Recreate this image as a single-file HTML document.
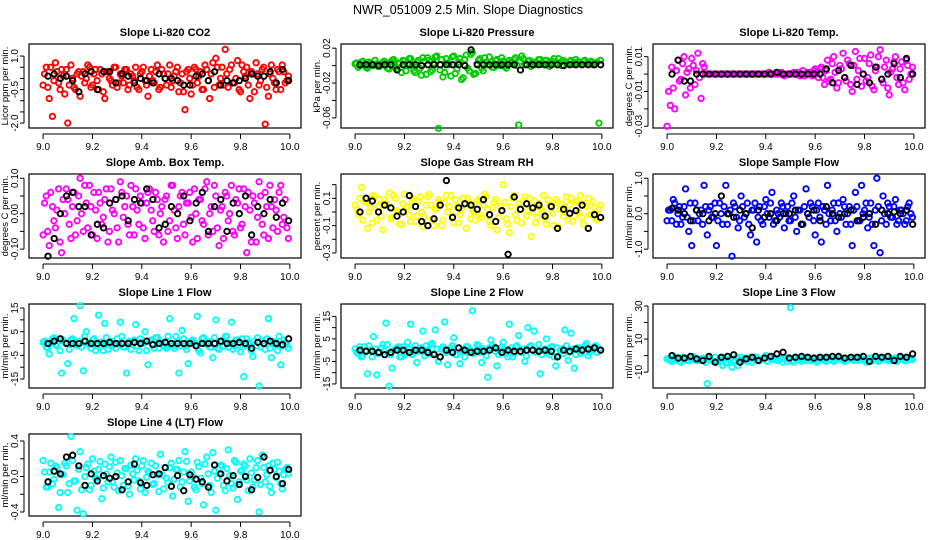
<!DOCTYPE html>
<html><head><meta charset="utf-8"><title>NWR_051009 Slope Diagnostics</title>
<style>
html,body{margin:0;padding:0;background:#fff;}
svg{display:block;font-family:"Liberation Sans",sans-serif;}
</style></head>
<body>
<svg id="chart" width="936" height="540" viewBox="0 0 936 540" xmlns="http://www.w3.org/2000/svg">
<text x="468" y="14" text-anchor="middle" font-size="12.5">NWR_051009  2.5 Min. Slope Diagnostics</text>
</svg>
<script>
const timesC = [
9.000,9.013,9.025,9.038,9.050,9.063,9.075,9.088,9.100,9.113,
9.125,9.138,9.150,9.163,9.175,9.188,9.200,9.213,9.225,9.238,
9.250,9.263,9.275,9.288,9.300,9.313,9.325,9.338,9.350,9.363,
9.375,9.388,9.400,9.413,9.425,9.438,9.450,9.463,9.475,9.488,
9.500,9.513,9.525,9.538,9.550,9.563,9.575,9.588,9.600,9.613,
9.625,9.638,9.650,9.663,9.675,9.688,9.700,9.713,9.725,9.738,
9.750,9.763,9.775,9.788,9.800,9.813,9.825,9.838,9.850,9.863,
9.875,9.888,9.900,9.913,9.925,9.938,9.950,9.963,9.975,9.988];
const timesD = [
9.006,9.019,9.031,9.044,9.056,9.069,9.081,9.094,9.106,9.119,
9.131,9.144,9.156,9.169,9.181,9.194,9.206,9.219,9.231,9.244,
9.256,9.269,9.281,9.294,9.306,9.319,9.331,9.344,9.356,9.369,
9.381,9.394,9.406,9.419,9.431,9.444,9.456,9.469,9.481,9.494,
9.506,9.519,9.531,9.544,9.556,9.569,9.581,9.594,9.606,9.619,
9.631,9.644,9.656,9.669,9.681,9.694,9.706,9.719,9.731,9.744,
9.756,9.769,9.781,9.794,9.806,9.819,9.831,9.844,9.856,9.869,
9.881,9.894,9.906,9.919,9.931,9.944,9.956,9.969,9.981,9.994];
const timesB = [
9.020,9.045,9.070,9.095,9.120,9.145,9.170,9.195,9.220,9.245,
9.270,9.295,9.320,9.345,9.370,9.395,9.420,9.445,9.470,9.495,
9.520,9.545,9.570,9.595,9.620,9.645,9.670,9.695,9.720,9.745,
9.770,9.795,9.820,9.845,9.870,9.895,9.920,9.945,9.970,9.995];
const xTicks = [9.0,9.2,9.4,9.6,9.8,10.0];
const xTickLabels = ["9.0","9.2","9.4","9.6","9.8","10.0"];
const titles = ["Slope Li-820 CO2","Slope Li-820 Pressure","Slope Li-820 Temp.","Slope Amb. Box Temp.","Slope Gas Stream RH","Slope Sample Flow","Slope Line 1 Flow","Slope Line 2 Flow","Slope Line 3 Flow","Slope Line 4 (LT) Flow"];
const yTitles = ["Licor ppm per min.","kPa per min.","degrees C per min.","degrees C per min.","percent per min.","ml/min per min.","ml/min per min.","ml/min per min.","ml/min per min.","ml/min per min."];
const colors = ["#ff0000","#00cd00","#ff00ff","#ff00ff","#ffff00","#0000ff","#00ffff","#00ffff","#00ffff","#00ffff"];
const yLims = [[-2.22,1.54],[-0.0716,0.0248],[-0.031,0.0173],[-0.125,0.112],[-0.337,0.278],[-1.25,1.12],[-18.8,16.7],[-16.8,20.5],[-19.6,31.2],[-0.445,0.479]];
const yTicks = [[1.0,0.5,0.0,-0.5,-1.0,-1.5,-2.0],[0.02,0.0,-0.02,-0.04,-0.06],[0.01,0.0,-0.01,-0.02,-0.03],[0.10,0.05,0.0,-0.05,-0.10],[0.2,0.1,0.0,-0.1,-0.2,-0.3],[1.0,0.5,0.0,-0.5,-1.0],[15,10,5,0,-5,-10,-15],[15,10,5,0,-5,-10,-15],[30,20,10,0,-10],[0.4,0.2,0.0,-0.2,-0.4]];
const yTickLabels = [["1.0","","","-0.5","","","-2.0"],["0.02","","-0.02","","-0.06"],["0.01","","-0.01","","-0.03"],["0.10","","0.00","","-0.10"],["","0.1","","-0.1","","-0.3"],["1.0","","0.0","","-1.0"],["15","","5","","-5","","-15"],["15","","5","","-5","","-15"],["30","","10","","-10"],["0.4","","0.0","","-0.4"]];

const co2C = [-0.3,0.5,-0.9,-1.7,0.7,-0.2,0.4,-0.7,-2.0,0.6,
-0.4,0.2,-0.8,0.3,0.0,0.5,-0.3,0.4,-0.5,0.2,
-0.9,0.3,-0.1,0.5,-0.4,0.2,-0.2,0.4,-0.3,0.1,
0.5,-0.5,0.3,-0.1,-0.8,0.4,-0.2,0.6,-0.4,0.2,
-0.3,0.6,-0.1,0.3,-0.6,0.2,-1.4,0.4,-0.7,0.5,
-0.2,0.3,-0.5,0.4,-0.9,0.7,0.9,-0.3,0.5,1.3,
-0.4,0.6,-0.2,0.8,-0.6,0.3,0.5,-0.9,0.2,0.7,
-0.3,0.4,-2.05,-0.8,0.6,-0.2,0.4,-0.5,0.3,-0.1];
const co2D = [0.2,-0.4,0.5,-0.1,0.3,-0.5,0.1,0.4,-0.3,0.0,
-0.5,0.3,0.1,-0.2,0.6,-0.4,0.2,-0.1,0.4,-0.6,
0.3,0.0,-0.3,0.5,-0.2,0.1,0.4,-0.5,0.2,-0.1,
-0.4,0.2,0.5,-0.3,0.1,-0.1,0.3,-0.5,0.4,0.0,
0.2,-0.4,0.1,0.5,-0.2,-0.6,0.3,0.0,-0.3,0.4,
0.1,-0.5,0.6,-0.1,0.2,-0.4,0.5,0.0,-0.3,0.2,
0.4,-0.2,0.0,-0.5,0.6,0.1,-0.3,0.3,-0.6,0.2,
-0.1,0.5,-0.4,0.2,0.0,-0.5,0.3,0.6,-0.2,0.1];
const co2B = [0.1,0.2,0.0,0.1,-0.1,-0.6,0.2,0.3,-0.5,0.3,
0.3,-0.2,0.2,0.1,-0.2,0.0,-0.1,-0.2,0.2,0.0,
0.0,-0.1,-0.3,-0.3,0.1,0.2,-0.1,0.3,-0.3,-0.1,
-0.2,-0.1,0.0,0.2,0.1,0.1,0.3,-0.2,0.4,-0.1];
const presC = [0.002,-0.002,0.004,0.001,-0.003,0.003,0.000,0.002,-0.001,0.004,
0.001,-0.004,0.006,-0.002,0.003,-0.008,0.005,0.002,0.008,-0.006,
0.004,-0.003,0.009,-0.010,0.006,-0.005,0.010,-0.072,0.007,-0.008,
0.003,-0.012,0.011,-0.004,0.008,-0.014,0.012,-0.006,0.015,-0.009,
0.006,-0.003,0.009,0.001,0.004,-0.002,0.007,0.000,0.005,-0.003,
0.006,0.002,0.009,-0.068,0.011,0.001,0.005,-0.001,0.004,0.002,
0.007,0.001,0.006,-0.001,0.005,0.003,0.008,0.000,0.004,0.002,
0.006,0.001,0.004,0.003,0.005,0.002,0.004,0.001,0.003,-0.066];
const presD = [0.003,0.000,0.005,-0.002,0.004,0.001,0.006,-0.001,0.002,0.005,
-0.003,0.004,0.007,-0.004,0.002,0.006,-0.006,0.008,0.000,-0.008,
0.006,-0.011,0.005,0.009,-0.007,0.003,0.011,-0.005,-0.013,0.008,
0.001,0.010,-0.009,0.004,-0.016,0.007,-0.003,0.013,-0.010,0.002,
0.008,-0.006,0.004,0.010,-0.002,0.006,0.001,0.009,-0.001,0.005,
0.003,0.007,0.000,0.005,0.008,0.002,0.006,0.004,0.001,0.007,
0.003,0.006,0.002,0.005,0.008,0.001,0.004,0.006,0.003,0.005,
0.002,0.007,0.004,0.001,0.006,0.003,0.005,0.002,0.004,0.006];
const presB = [0.001,0.001,0.001,0.000,0.001,0.001,-0.005,0.001,0.001,0.001,
0.000,0.001,0.001,0.001,0.001,0.001,0.001,0.000,0.018,0.001,
0.001,0.001,0.001,0.001,0.001,0.001,-0.005,0.001,0.001,0.001,
0.001,0.001,0.001,0.000,0.001,0.001,0.001,0.001,0.001,0.001];
const tempC = [-0.030,-0.018,-0.008,0.002,-0.004,0.006,-0.012,0.003,0.009,-0.006,
0.012,-0.014,0.004,0.000,0.000,0.000,0.000,0.000,0.000,0.000,
0.000,0.000,0.000,0.000,0.000,0.000,0.000,0.000,0.000,0.000,
0.000,0.000,0.000,0.001,0.000,0.000,0.000,0.001,-0.001,0.000,
0.000,0.001,0.000,-0.001,0.002,0.000,0.001,-0.001,0.003,-0.002,
0.004,-0.006,0.008,-0.003,0.010,-0.008,0.005,0.012,-0.004,0.006,
-0.010,0.013,0.002,-0.007,0.009,-0.002,0.011,-0.009,0.004,0.014,
-0.005,0.008,-0.012,0.003,0.010,-0.006,0.007,-0.009,0.005,0.000];
const tempD = [-0.010,0.004,-0.020,0.008,-0.003,0.010,0.001,-0.008,0.005,0.002,
-0.002,0.006,0.000,0.000,0.000,0.000,0.000,0.000,0.000,0.000,
0.000,0.000,0.000,0.000,0.000,0.000,0.000,0.000,0.000,0.000,
0.000,0.000,0.000,0.000,0.000,0.000,0.000,0.000,0.000,0.000,
0.000,0.000,0.001,0.000,-0.001,0.001,0.000,0.002,0.001,0.003,
-0.002,0.002,-0.004,0.006,0.001,-0.005,0.003,-0.002,0.008,-0.006,
0.005,-0.003,0.009,0.000,-0.004,0.006,-0.007,0.002,0.010,-0.003,
0.004,-0.008,0.001,0.007,-0.002,0.003,-0.005,0.008,-0.003,0.004];
const tempB = [0.000,0.008,-0.004,-0.004,0.000,0.000,0.000,0.000,0.000,0.000,
0.000,0.000,0.000,0.000,0.000,0.000,0.000,0.001,0.000,0.000,
0.000,0.000,0.000,0.000,0.000,0.003,-0.005,0.002,-0.002,0.005,
-0.006,0.000,-0.005,0.004,-0.003,0.000,0.006,-0.002,0.009,0.000];
const ambC = [-0.06,0.05,-0.09,0.02,-0.04,0.07,-0.11,0.00,0.04,-0.07,
0.06,-0.02,0.10,-0.05,0.03,0.08,-0.06,0.01,0.06,-0.03,
0.04,-0.08,0.07,0.00,-0.04,0.09,-0.01,0.05,-0.06,0.02,
0.07,-0.03,0.03,-0.07,0.06,0.01,-0.05,0.04,0.00,-0.08,
0.05,-0.02,0.08,-0.04,0.02,0.06,-0.06,0.03,-0.01,0.07,
-0.07,0.04,-0.03,0.09,0.00,-0.05,0.05,-0.09,0.02,0.06,
-0.02,0.08,-0.06,0.03,-0.04,0.07,-0.11,0.01,0.05,-0.08,
0.09,-0.03,0.06,-0.07,0.02,0.04,-0.05,0.08,-0.01,-0.04];
const ambD = [0.03,-0.05,0.06,-0.02,0.01,-0.08,0.04,0.07,-0.03,0.02,
-0.06,0.05,0.00,0.08,-0.04,0.02,0.06,-0.07,0.03,-0.01,
0.07,-0.05,0.01,0.04,-0.08,0.06,0.02,-0.03,0.08,-0.06,
0.01,0.05,-0.04,0.03,0.07,-0.02,0.06,-0.06,0.02,0.04,
-0.05,0.08,0.01,-0.07,0.05,-0.03,0.03,0.06,-0.08,0.00,
0.04,-0.02,0.07,-0.06,0.02,0.08,-0.04,0.01,-0.07,0.05,
0.00,-0.05,0.04,0.07,-0.03,0.02,0.06,-0.08,0.03,-0.01,
0.05,-0.06,0.02,0.08,-0.04,0.01,0.06,-0.03,0.04,-0.07];
const ambB = [-0.12,-0.07,0.00,0.05,0.06,0.02,0.02,-0.06,-0.03,-0.04,
0.03,0.04,0.05,-0.02,0.04,0.03,0.07,0.04,-0.04,-0.03,
0.02,0.00,0.05,-0.02,0.03,0.06,-0.05,0.02,0.04,-0.05,
0.03,0.00,0.05,-0.06,0.02,0.00,0.04,-0.01,0.03,-0.02];
const rhC = [0.05,-0.02,0.18,0.08,-0.12,0.03,0.12,-0.06,0.09,-0.13,
0.06,0.14,-0.04,0.10,0.00,-0.09,0.13,0.04,-0.07,0.08,
-0.03,0.11,-0.11,0.05,0.13,-0.05,0.02,0.09,-0.10,0.07,
0.00,0.12,-0.08,0.04,-0.02,0.10,-0.12,0.06,0.01,-0.06,
0.09,-0.04,0.13,0.02,-0.10,0.07,-0.13,0.04,0.20,-0.05,
-0.15,0.10,-0.02,0.06,-0.08,0.11,0.01,-0.18,0.08,-0.04,
0.03,0.12,-0.09,0.05,-0.01,0.09,-0.11,0.06,0.00,-0.06,
0.10,-0.03,0.07,0.12,-0.09,0.04,-0.02,0.08,-0.05,0.02];
const rhD = [0.02,0.10,-0.06,0.07,0.00,-0.08,0.11,0.04,-0.03,0.09,
0.05,-0.05,0.12,0.01,-0.09,0.06,0.03,-0.02,0.10,-0.07,
0.08,0.00,-0.04,0.11,0.05,-0.10,0.03,0.07,-0.06,0.12,
0.04,-0.03,0.09,-0.08,0.02,0.06,0.10,-0.05,0.00,0.08,
-0.02,0.05,0.11,-0.07,0.03,0.09,-0.04,0.01,0.07,-0.09,
0.04,0.12,-0.06,0.02,0.08,-0.03,0.10,0.00,-0.08,0.06,
0.01,-0.05,0.09,0.04,-0.10,0.07,0.02,-0.03,0.11,0.05,
-0.07,0.08,0.00,-0.04,0.06,0.10,-0.02,0.03,-0.06,0.05];
const rhB = [0.00,0.10,0.08,0.00,0.05,0.03,-0.03,0.00,0.12,0.04,
-0.07,-0.10,-0.05,0.05,0.23,-0.04,0.03,0.06,0.05,0.02,
0.09,-0.02,-0.07,0.01,-0.31,0.11,0.02,0.06,0.03,0.05,
-0.03,0.04,-0.12,0.02,-0.01,0.01,0.05,-0.12,-0.02,-0.04];
const sampC = [-0.2,0.1,0.4,-0.3,0.2,-0.1,0.7,-0.5,-0.9,0.3,
-0.2,0.1,0.8,-0.6,0.2,-0.1,-0.9,0.3,-0.3,0.8,
0.0,-1.2,0.2,-0.4,0.5,-0.1,0.3,-0.6,0.1,-0.8,
0.2,-0.3,0.4,-0.1,0.6,-0.2,0.0,0.3,-0.4,0.2,
-0.2,0.5,-0.5,0.1,-0.3,0.7,-0.1,0.2,-0.6,0.3,
-0.8,0.1,0.8,-0.2,0.3,-0.5,0.0,0.4,-0.3,0.2,
-0.9,0.6,-0.2,0.8,0.1,-0.4,0.3,-0.9,1.0,-1.1,
0.5,-0.3,0.2,-0.1,0.4,-0.2,0.1,-0.3,0.2,0.0];
const sampD = [0.1,-0.2,0.3,0.0,-0.3,0.2,-0.1,0.3,-0.2,0.1,
0.0,-0.3,0.2,0.1,-0.1,0.3,-0.2,0.0,0.2,-0.3,
0.1,0.3,-0.1,-0.2,0.2,0.0,-0.3,0.1,0.3,-0.1,
-0.2,0.2,0.0,0.3,-0.3,0.1,-0.1,0.2,0.0,-0.2,
0.3,-0.1,0.1,-0.3,0.2,0.0,0.3,-0.2,0.1,-0.1,
0.2,-0.3,0.0,0.1,-0.2,0.3,-0.1,0.2,0.0,-0.3,
0.1,0.2,-0.2,0.0,0.3,-0.1,-0.3,0.1,0.2,-0.2,
0.0,0.3,-0.1,0.2,-0.3,0.1,0.0,-0.2,0.3,-0.1];
const sampB = [0.15,0.1,0.0,-0.2,0.1,0.0,-0.2,0.0,0.5,0.0,
-0.1,0.1,0.0,-0.4,0.1,-0.1,0.0,-0.2,0.0,0.0,
0.1,-0.3,0.0,0.1,-0.2,0.2,0.0,-0.1,0.0,0.1,
-0.2,-0.1,0.0,-0.3,0.1,0.0,0.05,0.0,0.1,-0.3];
const l1C = [0.5,-1.5,-4.5,2.0,-0.5,1.0,-12.5,0.5,-8.5,1.5,
10.5,-1.0,16.0,-11.5,5.0,-0.5,1.5,-3.0,12.0,0.5,
8.5,-2.5,-1.0,-0.5,2.0,9.0,-1.5,-12.5,1.0,-0.5,
8.0,-3.0,0.5,5.0,-9.0,1.5,-2.0,2.5,0.0,-1.0,
-2.0,10.5,-1.0,3.0,-12.5,5.5,-1.0,-8.5,1.0,0.5,
11.5,-4.0,2.5,-0.5,-1.5,-6.0,10.0,-2.5,1.0,3.0,
-1.5,9.0,-1.0,1.5,-3.5,-14.0,2.0,-0.5,-5.5,-1.0,
-18.0,1.0,-2.5,10.5,-6.0,0.5,-3.0,-9.0,1.5,-0.5];
const l1D = [1,-2,0.5,2.5,-1,-3,1.5,0,-2.5,2,
-0.5,1,-1.5,3,0,-2,2,-1,0.5,-3,
2.5,-0.5,1,-2,0,3,-1.5,0.5,-2.5,1.5,
-1,2,0,-3,1,-0.5,2.5,-2,0.5,-1.5,
3,0,-2,1,-1,2,-2.5,0.5,1.5,-0.5,
-3,2,0,1,-1.5,2.5,-2,0.5,-1,3,
0,-2.5,1.5,-0.5,2,-1,0.5,-3,1,2.5,
-1.5,0,2,-2,1,-0.5,3,-1,0.5,-2];
const l1B = [0,1,2,0,0,0,1,0,0,0,
0.5,0,0,0,0.5,0,1,-0.5,0,0.5,
0,0,0,0,-1,0,0,0,1,0,
0,0.5,0,-2,0.5,0,1,0,-0.5,2];
const l2C = [0.5,-1.5,-3.0,1.5,-10.5,0.0,6.0,-11.0,-1.0,2.5,
12.0,-16.0,-8.0,0.5,1.5,-3.0,-2.0,3.5,11.5,-1.0,
-5.5,0.0,8.5,2.0,-1.5,3.0,9.0,-5.0,0.5,12.5,
-6.5,1.0,5.5,-2.0,-6.0,0.0,1.5,-1.0,17.5,-0.5,
2.0,-5.5,-0.5,-12.0,4.5,1.0,-7.0,0.5,3.5,-1.5,
11.5,-3.0,1.5,6.5,-1.0,-5.0,10.0,2.0,8.5,-0.5,
-10.5,0.0,5.0,-2.0,1.5,-7.0,-2.5,0.5,9.0,-4.5,
7.5,-8.0,1.0,-1.5,0.5,3.0,-1.0,0.0,2.0,0.5];
const l2D = [-1,1.5,-2.5,0,2,-3,0.5,-1.5,1,-0.5,
2.5,-2,0,1,-3,1.5,-1,0.5,-2,2,
-0.5,1,-2.5,0,2.5,-1.5,0.5,-3,1.5,-1,
0,2,-2,1,-0.5,-3,1.5,0,-1.5,2.5,
-1,0.5,-2.5,1,2,-0.5,-2,1.5,0,-3,
1,-1.5,2,-0.5,0.5,-2.5,1.5,0,-1,2.5,
-2,0.5,-0.5,1.5,-3,1,0,-1.5,2,-1,
0.5,-2,1,-0.5,2,-2.5,0,1.5,-1,0];
const l2B = [0,-0.5,-0.5,-1,-2,-1,0,0,-1,0,
0,-1,-2,-3,0,-1,1,0,-1,-0.5,
-0.5,0,1,-1,0,-0.5,-0.5,0,0,-0.5,
0,-0.5,-3,0,-0.5,0.5,0,0.5,1,0];
const l3C = [-2,-3,-1.5,-2.5,-3.5,-1,-2,-3,-2.5,-1.5,
-3,-2,-2.5,-17,-1.5,-3.5,-4,-2,-6,-4.5,
-2.5,-7,-3,-6,-1,-2.5,-3.5,-1.5,-2,-1,
-3,-2,0,-1.5,-2.5,-2,-3,-1.5,-2,-3.5,
29,-4,-2,-2.5,-1.5,-3,-2,-2.5,-1.5,-3,
-2,-3,-1.5,-2.5,-3.5,-2,-1.5,-2.5,-3,-2,
-2.5,-1.5,-3,-2,-2.5,-4,-1.5,-2.5,-2,-3,
-1.5,-2.5,-3,-2,-1.5,-2.5,-2,-3,-1.5,-2];
const l3D = [-2,-3.5,-1,-2.5,-4,-1.5,-3,-2,-0.5,-3,
-2.5,-1.5,-4,-2,-3,-1,-3.5,-2.5,-1.5,-4,
-2,-3,-1,-2.5,-3.5,-1.5,-2,-4,-1,-3,
-2.5,-1.5,-3.5,-2,-1,-3,-2.5,-4,-1.5,-2,
-3,-1,-2.5,-3.5,-2,-1.5,-3,-2,-4,-1,
-2.5,-3.5,-1.5,-2,-3,-1,-2.5,-3.5,-2,-1.5,
-3,-2,-1,-2.5,-4,-1.5,-3,-2,-3.5,-1,
-2,-3,-1.5,-2.5,-3.5,-1,-2,-3,-1.5,-2.5];
const l3B = [0,-1.5,-1.5,-0.5,-2,-3,-0.5,-4,-1,-0.5,
0.5,-4,-2,-1,-3,-1.5,-0.5,1,2,-1.5,
-1,-0.5,-1,-1.5,-1,-1,-0.5,-0.5,-1.5,-1,
-1,-0.5,-3.5,-0.5,-1,-0.5,-3,-0.5,-1,1];
const l4C = [0.18,-0.12,0.05,-0.08,0.12,-0.35,0.02,0.15,-0.18,0.45,
-0.05,-0.38,0.28,-0.42,0.10,-0.15,0.20,-0.02,0.08,-0.25,
0.14,-0.06,0.22,-0.12,0.04,0.18,-0.10,0.09,-0.20,0.03,
0.20,-0.05,0.12,-0.18,0.06,0.15,-0.08,0.02,0.25,-0.14,
-0.02,0.10,-0.22,0.08,0.18,-0.06,0.28,-0.28,0.05,-0.12,
0.16,-0.02,-0.32,0.22,-0.10,0.27,-0.38,0.04,0.12,-0.16,
0.30,-0.08,0.18,-0.26,0.06,0.14,-0.04,0.20,-0.12,0.10,
-0.40,0.24,-0.06,0.12,-0.18,0.08,0.16,-0.08,0.02,0.10];
const l4D = [0.05,-0.12,0.15,-0.03,0.10,-0.18,0.02,0.12,-0.08,0.18,
-0.05,0.08,-0.15,0.00,0.14,-0.10,0.06,-0.02,0.17,-0.13,
0.03,0.11,-0.06,0.16,-0.16,0.01,0.09,-0.11,0.13,-0.04,
0.07,-0.14,0.18,-0.01,0.04,-0.09,0.12,-0.17,0.02,0.10,
-0.07,0.15,-0.03,0.08,-0.12,0.05,0.17,-0.05,0.00,-0.15,
0.11,-0.08,0.14,0.03,-0.18,0.06,-0.02,0.13,-0.10,0.09,
0.01,-0.13,0.16,-0.06,0.07,0.12,-0.16,0.04,-0.04,0.18,
-0.09,0.10,0.02,-0.11,0.15,-0.01,0.06,-0.14,0.08,0.03];
const l4B = [-0.06,0.06,0.03,0.22,0.24,0.12,-0.10,0.03,-0.05,0.01,
-0.02,0.00,-0.15,-0.06,0.14,-0.07,-0.10,0.02,0.03,0.10,
-0.11,0.01,-0.16,0.02,-0.03,-0.06,-0.12,0.13,0.03,-0.05,
0.01,-0.09,0.00,-0.15,-0.01,0.22,0.07,0.00,-0.08,0.08];

const colorSeries = [co2C,presC,tempC,ambC,rhC,sampC,l1C,l2C,l3C,l4C];
const coreSeries = [co2D,presD,tempD,ambD,rhD,sampD,l1D,l2D,l3D,l4D];
const blackSeries = [co2B,presB,tempB,ambB,rhB,sampB,l1B,l2B,l3B,l4B];
const panelNames = ["co2","pressure","li820-temp","amb-box-temp","gas-stream-rh","sample-flow","line1-flow","line2-flow","line3-flow","line4-flow"];

const NS = "http://www.w3.org/2000/svg";
const svg = document.getElementById("chart");
const rowTops = [44,174,304,434];
const xLim = [8.943,10.045];
function mk(tag, attrs, parent){
  const e = document.createElementNS(NS, tag);
  for (const k in attrs) e.setAttribute(k, attrs[k]);
  parent.appendChild(e);
  return e;
}
for (let p = 0; p < 10; p++) {
  const col = p % 3, row = Math.floor(p / 3);
  const L = 29 + 312*col, R = 301 + 312*col, T = rowTops[row], B = T + (row === 3 ? 82 : 84);
  const xs = v => L + (v - xLim[0]) / (xLim[1] - xLim[0]) * (R - L);
  const ys = v => B - (v - yLims[p][0]) / (yLims[p][1] - yLims[p][0]) * (B - T);
  const g = mk("g", {}, svg);
  
  
  const t = mk("text", {x:(L+R)/2, y:T-8, "text-anchor":"middle", "font-size":"11", "font-weight":"bold"}, g);
  t.textContent = titles[p];
  
  
  const yt = mk("text", {x:0, y:0, "text-anchor":"middle", "font-size":"9.5", transform:"translate(" + (L-21) + "," + ((T+B)/2) + ") rotate(-90)"}, g);
  yt.textContent = yTitles[p];
  
  
  const xa = mk("g", {stroke:"#000", "stroke-width":"1"}, g);
  
  
  mk("line", {x1:xs(xTicks[0]), x2:xs(xTicks[xTicks.length-1]), y1:B+6, y2:B+6}, xa);
  xTicks.forEach((v, i) => {
    mk("line", {x1:xs(v), x2:xs(v), y1:B+6, y2:B+11}, xa);
    const lab = mk("text", {x:xs(v), y:B+22, "text-anchor":"middle", "font-size":"10", stroke:"none", fill:"#000"}, g);
    lab.textContent = xTickLabels[i];
    
    
  });
  const ya = mk("g", {stroke:"#000", "stroke-width":"1"}, g);
  
  
  const tk = yTicks[p];
  mk("line", {x1:L-5, x2:L-5, y1:ys(tk[0]), y2:ys(tk[tk.length-1])}, ya);
  tk.forEach((v, i) => {
    mk("line", {x1:L-5, x2:L-9, y1:ys(v), y2:ys(v)}, ya);
    if (yTickLabels[p][i]) {
      const lab = mk("text", {x:0, y:0, "text-anchor":"middle", "font-size":"10", stroke:"none", fill:"#000", transform:"translate(" + (L-11) + "," + ys(v) + ") rotate(-90)"}, g);
      lab.textContent = yTickLabels[p][i];
      
      
    }
  });
  const box = mk("rect", {x:L, y:T, width:R-L, height:B-T, fill:"none", stroke:"#000", "stroke-width":"1.2"}, g);
  
  
  const cg = mk("g", {fill:"none", stroke:colors[p], "stroke-width":"1.9"}, g);
  
  
  const ds = coreSeries[p];
  for (let i = 0; i < Math.min(ds.length, timesD.length); i++) {
    const c = mk("circle", {cx:xs(timesD[i]), cy:ys(ds[i]), r:"2.7"}, cg);
    
    
  }
  const cs = colorSeries[p];
  for (let i = 0; i < Math.min(cs.length, timesC.length); i++) {
    const c = mk("circle", {cx:xs(timesC[i]), cy:ys(cs[i]), r:"2.7"}, cg);
    
    
  }
  const bg = mk("g", {fill:"none", stroke:"#000", "stroke-width":"1.9"}, g);
  
  
  const bs = blackSeries[p];
  for (let i = 0; i < Math.min(bs.length, timesB.length); i++) {
    const c = mk("circle", {cx:xs(timesB[i]), cy:ys(bs[i]), r:"2.7"}, bg);
    
    
  }
}
</script>
</body></html>
